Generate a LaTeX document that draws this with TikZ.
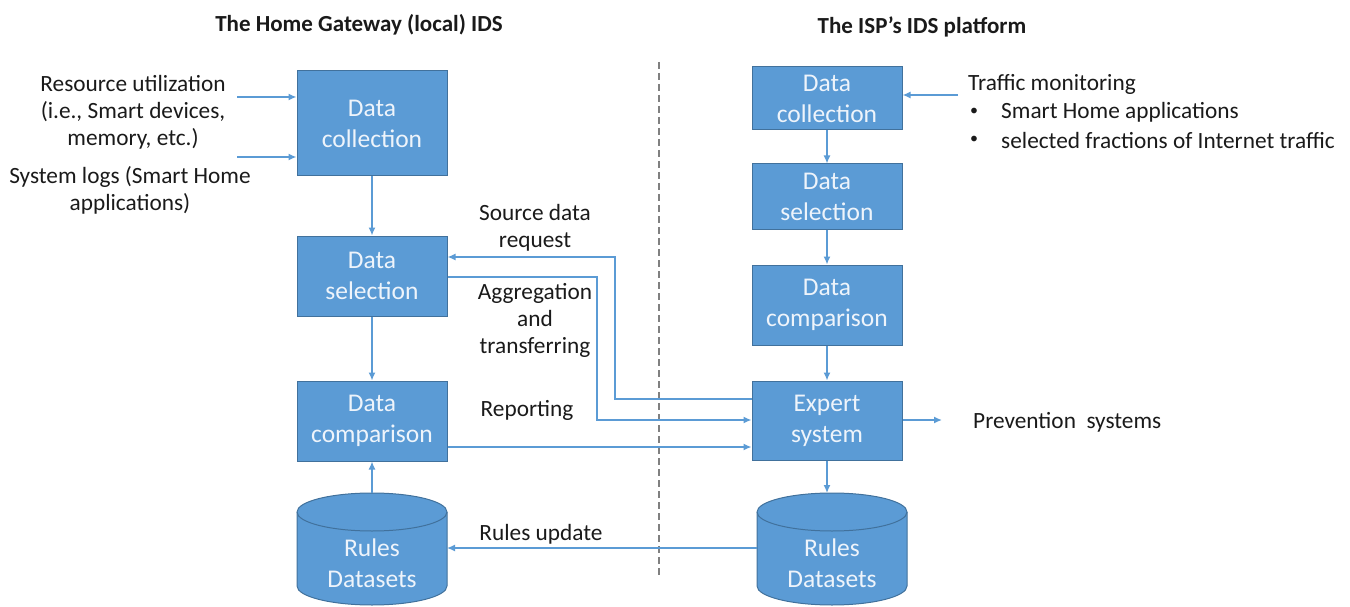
\documentclass[tikz,border=0pt]{standalone}
\usepackage{fontspec}
\setmainfont{Carlito}
\usetikzlibrary{arrows.meta}
\definecolor{boxfill}{HTML}{5B9BD5}
\definecolor{boxline}{HTML}{41719C}
\definecolor{boxtext}{HTML}{EEF4FB}
\definecolor{txt}{HTML}{1A1A1A}
\begin{document}
\begin{tikzpicture}[x=1pt,y=1pt,
  box/.style={draw=boxline,line width=1pt,fill=boxfill,text=boxtext,minimum width=150pt,align=center,inner sep=0pt,font=\fontsize{25.5}{31}\selectfont},
  lbl/.style={text=txt,align=center,inner sep=0pt,font=\fontsize{23.3}{27}\selectfont},
  hd/.style={text=txt,inner sep=0pt,font=\fontsize{23}{26}\selectfont\bfseries},
  arr/.style={draw=boxfill,line width=1.4pt,-{Latex[length=8pt,width=7pt]}},
  cyl/.style={draw=boxline,line width=1pt,fill=boxfill}
]
\useasboundingbox (0,0) rectangle (1350,-607);
% headings
\node[hd] (h1) at (359,-25) {The Home Gateway (local) IDS};
\node[hd] (h2) at (922,-27) {The ISP’s IDS platform};
% divider
\coordinate (dv1) at (659,-62);
\coordinate (dv2) at (659,-578);
\draw[gray,line width=2.2pt,dash pattern=on 7pt off 4pt] (dv1) -- (dv2);
% left boxes
\node[box,minimum height=105pt] (lcol) at (372,-123.5) {Data\\collection};
\node[box,minimum height=80pt] (lsel) at (372,-276) {Data\\selection};
\node[box,minimum height=80pt] (lcmp) at (372,-421) {Data\\comparison};
% right boxes
\node[box,minimum height=63pt] (rcol) at (827,-98.5) {Data\\collection};
\node[box,minimum height=65pt] (rsel) at (827,-196.5) {Data\\selection};
\node[box,minimum height=80pt] (rcmp) at (827,-305) {Data\\comparison};
\node[box,minimum height=79pt] (exp) at (827,-420.5) {Expert\\system};
% cylinders
\path[cyl] (297,-512) -- (297,-586) arc[start angle=180,end angle=360,x radius=75pt,y radius=19pt] -- (447,-512) arc[start angle=0,end angle=180,x radius=75pt,y radius=19pt] -- cycle;
\draw[boxline,line width=1pt] (297,-512) arc[start angle=180,end angle=360,x radius=75pt,y radius=19pt];
\node[box,draw=none,fill=none,minimum width=150pt,minimum height=112pt] (lrul) at (372,-549) {};
\node[box,draw=none,fill=none] (lrt) at (372,-563) {Rules\\Datasets};
\path[cyl] (757,-512) -- (757,-586) arc[start angle=180,end angle=360,x radius=75pt,y radius=19pt] -- (907,-512) arc[start angle=0,end angle=180,x radius=75pt,y radius=19pt] -- cycle;
\draw[boxline,line width=1pt] (757,-512) arc[start angle=180,end angle=360,x radius=75pt,y radius=19pt];
\node[box,draw=none,fill=none,minimum width=150pt,minimum height=112pt] (rrul) at (832,-549) {};
\node[box,draw=none,fill=none] (rrt) at (832,-563) {Rules\\Datasets};
% left inputs
\node[lbl] (in1) at (133,-112) {Resource utilization\\(i.e., Smart devices,\\memory, etc.)};
\node[lbl] (in2) at (130,-190) {System logs (Smart Home\\applications)};
\coordinate (a1) at (237,-97);
\coordinate (a2) at (237,-157);
\draw[arr] (a1) -- (lcol.west|-a1);
\draw[arr] (a2) -- (lcol.west|-a2);
% right input
\coordinate (a3) at (958,-95);
\draw[arr] (a3) -- (rcol.east|-a3);
\node[lbl,anchor=west] (tm) at (968,-84) {Traffic monitoring};
\node[lbl,font=\fontsize{16}{20}\selectfont] (b1) at (974,-112) {•};
\node[lbl,anchor=west] (t1) at (1001,-112) {Smart Home applications};
\node[lbl,font=\fontsize{16}{20}\selectfont] (b2) at (974,-140) {•};
\node[lbl,anchor=west] (t2) at (1001,-140) {selected fractions of Internet traffic};
% vertical flows
\draw[arr] (lcol) -- (lsel);
\draw[arr] (lsel) -- (lcmp);
\draw[arr] (lrul.north) -- (lcmp);
\draw[arr] (rcol) -- (rsel);
\draw[arr] (rsel) -- (rcmp);
\draw[arr] (rcmp) -- (exp);
\draw[arr] (exp.south) -- (827,-493);
% cross flows
\coordinate (sq1) at (615,-399);
\coordinate (sq2) at (615,-257);
\draw[arr] (exp.west|-sq1) -| (sq2) -- (lsel.east|-sq2);
\coordinate (ag1) at (597,-277);
\coordinate (ag2) at (597,-420);
\draw[arr] (lsel.east|-ag1) -| (ag2) -- (exp.west|-ag2);
\coordinate (rp) at (0,-447);
\draw[arr] (lcmp.east|-rp) -- (exp.west|-rp);
\draw[arr] (757,-548) -- (447,-548);
\coordinate (pv) at (942,-420);
\draw[arr] (exp.east|-pv) -- (pv);
% labels
\node[lbl] (l1) at (535,-227.5) {Source data\\request};
\node[lbl] (l2) at (535,-320.5) {Aggregation\\and\\transferring};
\node[lbl] (l3) at (527,-410.5) {Reporting};
\node[lbl] (l4) at (541,-534.5) {Rules update};
\node[lbl,anchor=west] (l5) at (973,-422) {Prevention\ \ systems};
\end{tikzpicture}
\end{document}
